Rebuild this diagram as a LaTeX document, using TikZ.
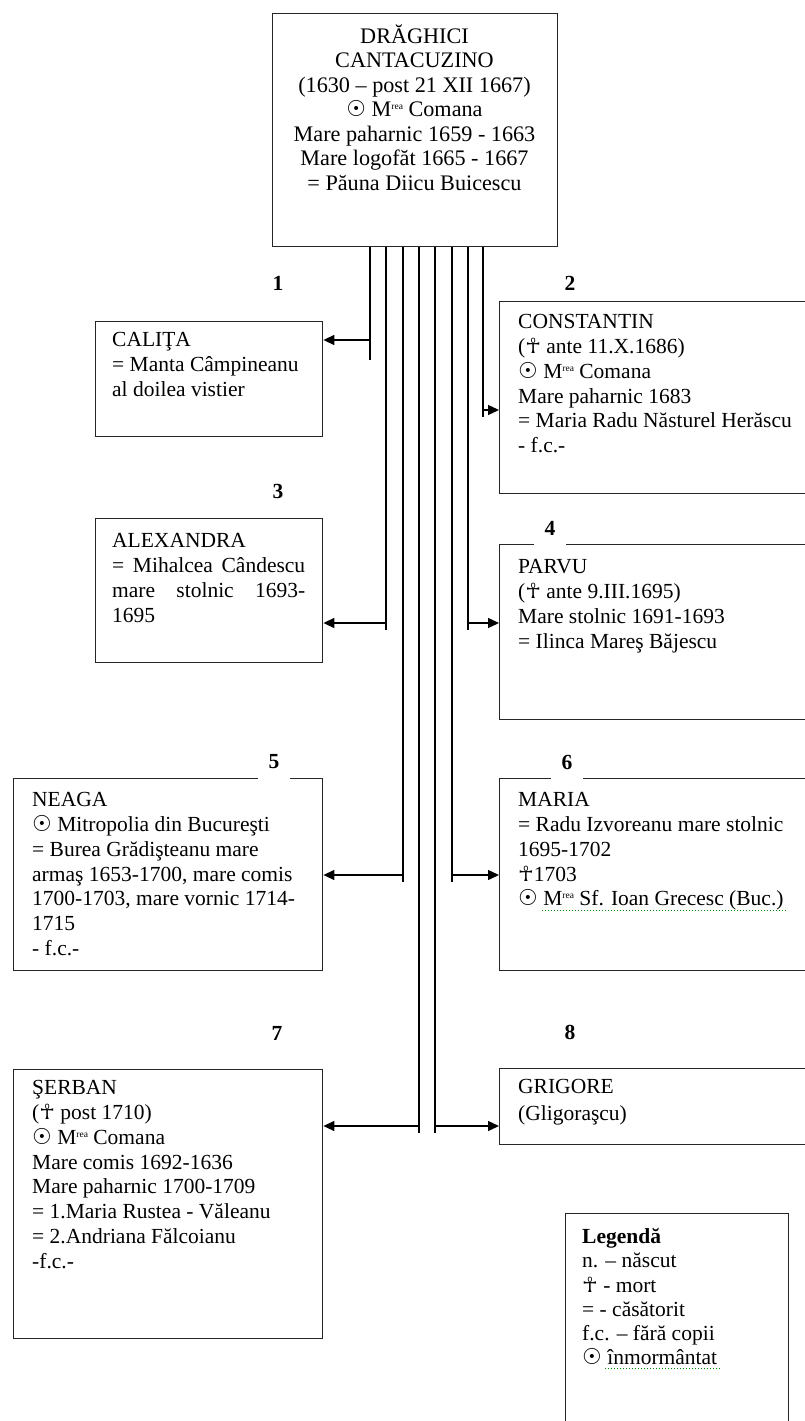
\documentclass[tikz,border=0pt]{standalone}
\usepackage{fontspec}
\setmainfont{Liberation Serif}
\newfontfamily\symfont{DejaVu Sans}
\usetikzlibrary{arrows.meta}
\newcommand\sgr{{\symfont\fontsize{22}{22}\selectfont ☉}}
\newcommand\smort{{\symfont\fontsize{21}{21}\selectfont ☥}}
\newcommand\mrea{M\raisebox{7pt}{\fontsize{9.5}{9.5}\selectfont rea}}
\newcommand\fl{\rule{0pt}{17pt}}
\begin{document}
\begin{tikzpicture}[x=1pt,y=-1pt,
  pbox/.style={draw=black!85, line width=1.4pt, inner sep=0pt, anchor=north west},
  txt/.style={anchor=north west, inner sep=0pt, align=left, font=\fontsize{21.5}{24.8}\selectfont},
  numl/.style={font=\fontsize{21.5}{24}\selectfont\bfseries, inner sep=0pt},
  numgap/.style={numl, fill=white, minimum width=32pt, minimum height=36pt},
  conn/.style={line width=1.4pt},
  arr/.style={line width=1.4pt, -{Triangle[length=11pt,width=10pt]}},
  squig/.style={green!55!black, dotted, line width=1pt}]
\useasboundingbox (0,0) rectangle (805,1421);
\clip (0,0) rectangle (805,1421);
\fill[white] (0,0) rectangle (805,1421);

% boxes
\node[pbox, minimum width=285pt, minimum height=233pt] (top) at (272,13) {};
\node[pbox, minimum width=227pt, minimum height=115pt] (calita) at (95,321) {};
\node[pbox, minimum width=320pt, minimum height=192pt] (constantin) at (499,301) {};
\node[pbox, minimum width=227pt, minimum height=144pt] (alexandra) at (95,518) {};
\node[pbox, minimum width=320pt, minimum height=175pt] (parvu) at (499,544) {};
\node[pbox, minimum width=309pt, minimum height=192pt] (neaga) at (13,778) {};
\node[pbox, minimum width=320pt, minimum height=192pt] (maria) at (499,778) {};
\node[pbox, minimum width=309pt, minimum height=269pt] (serban) at (13,1069) {};
\node[pbox, minimum width=320pt, minimum height=76pt] (grigore) at (499,1068) {};
\node[pbox, minimum width=223pt, minimum height=220pt] (legend) at (565,1213) {};

% texts
\node[txt, anchor=north, align=center, font=\fontsize{22.2}{24.5}\selectfont] (toptxt) at (414.5,24.5)
  {\fl DRĂGHICI\\ CANTACUZINO\\ (1630 – post 21 XII 1667)\\ \sgr{} \mrea{} Comana\\
   Mare paharnic 1659 - 1663\\ Mare logofăt 1665 - 1667\\ = Păuna Diicu Buicescu};
\node[txt] (calitatxt) at ([shift={(17,8.5)}]calita.north west)
  {\fl CALIŢA\\ = Manta Câmpineanu\\ al doilea vistier};
\node[txt] (constantintxt) at ([shift={(19,10.5)}]constantin.north west)
  {\fl CONSTANTIN\\ (\smort{} ante 11.X.1686)\\ \sgr{} \mrea{} Comana\\ Mare paharnic 1683\\
   = Maria Radu Năsturel Herăscu\\ - f.c.-};
\node[txt] (alexandratxt) at ([shift={(17,12.5)}]alexandra.north west)
  {\fl ALEXANDRA\\ \makebox[193pt][s]{= Mihalcea Cândescu}\\ \makebox[193pt][s]{mare stolnic 1693-}\\ 1695};
\node[txt] (parvutxt) at ([shift={(19,12.5)}]parvu.north west)
  {\fl PARVU\\ (\smort{} ante 9.III.1695)\\ Mare stolnic 1691-1693\\ = Ilinca Mareş Băjescu};
\node[txt] (neagatxt) at ([shift={(19,11.5)}]neaga.north west)
  {\fl NEAGA\\ \sgr{} Mitropolia din Bucureşti\\ = Burea Grădişteanu mare\\ armaş 1653-1700, mare comis\\
   1700-1703, mare vornic 1714-\\ 1715\\ - f.c.-};
\node[txt] (mariatxt) at ([shift={(19,11.5)}]maria.north west)
  {\fl MARIA\\ = Radu Izvoreanu mare stolnic\\ 1695-1702\\ \smort1703\\ \sgr{} \mrea{} Sf. Ioan Grecesc (Buc.)};
\node[txt] (serbantxt) at ([shift={(19,8.5)}]serban.north west)
  {\fl ŞERBAN\\ (\smort{} post 1710)\\ \sgr{} \mrea{} Comana\\ Mare comis 1692-1636\\ Mare paharnic 1700-1709\\
   = 1.Maria Rustea - Văleanu\\ = 2.Andriana Fălcoianu\\ -f.c.-};
\node[txt, font=\fontsize{21.5}{27}\selectfont] (grigoretxt) at ([shift={(19,8.5)}]grigore.north west)
  {\fl GRIGORE\\ (Gligoraşcu)};
\node[txt, font=\fontsize{21.5}{24.2}\selectfont] (legendtxt) at ([shift={(17,13.5)}]legend.north west)
  {\fl\textbf{Legendă}\\ n. – născut\\ \smort{} - mort\\ = - căsătorit\\ f.c. – fără copii\\ \sgr{} înmormântat};

% spell-check squiggles
\draw[squig] (542,910) -- (787,910);
\draw[squig] (605,1368) -- (720,1368);

% number labels
\node[numl] (n1) at (278,283) {1};
\node[numl] (n2) at (570,283) {2};
\node[numl] (n3) at (278,491) {3};
\node[numgap] (n4) at (550,528) {4};
\node[numgap] (n5) at (274,762) {5};
\node[numgap] (n6) at (567,762) {6};
\node[numl] (n7) at (277,1033) {7};
\node[numl] (n8) at (570,1032) {8};

% connectors
\coordinate (e1) at (370,360);  \coordinate (a1) at (370,340);
\coordinate (e2) at (483,417);  \coordinate (a2) at (483,410);
\coordinate (e3) at (386,630);  \coordinate (a3) at (386,623);
\coordinate (e4) at (468,630);  \coordinate (a4) at (468,623);
\coordinate (e5) at (403,882);  \coordinate (a5) at (403,875);
\coordinate (e6) at (452,882);  \coordinate (a6) at (452,875);
\coordinate (e7) at (419,1133); \coordinate (a7) at (419,1126);
\coordinate (e8) at (435,1133); \coordinate (a8) at (435,1126);
\foreach \i in {1,...,8} { \draw[conn] (top.south -| e\i) -- (e\i); }
\draw[arr] (a1) -- (a1 -| calita.east);
\draw[arr] (a2) -- (a2 -| constantin.west);
\draw[arr] (a3) -- (a3 -| alexandra.east);
\draw[arr] (a4) -- (a4 -| parvu.west);
\draw[arr] (a5) -- (a5 -| neaga.east);
\draw[arr] (a6) -- (a6 -| maria.west);
\draw[arr] (a7) -- (a7 -| serban.east);
\draw[arr] (a8) -- (a8 -| grigore.west);
\end{tikzpicture}
\end{document}
